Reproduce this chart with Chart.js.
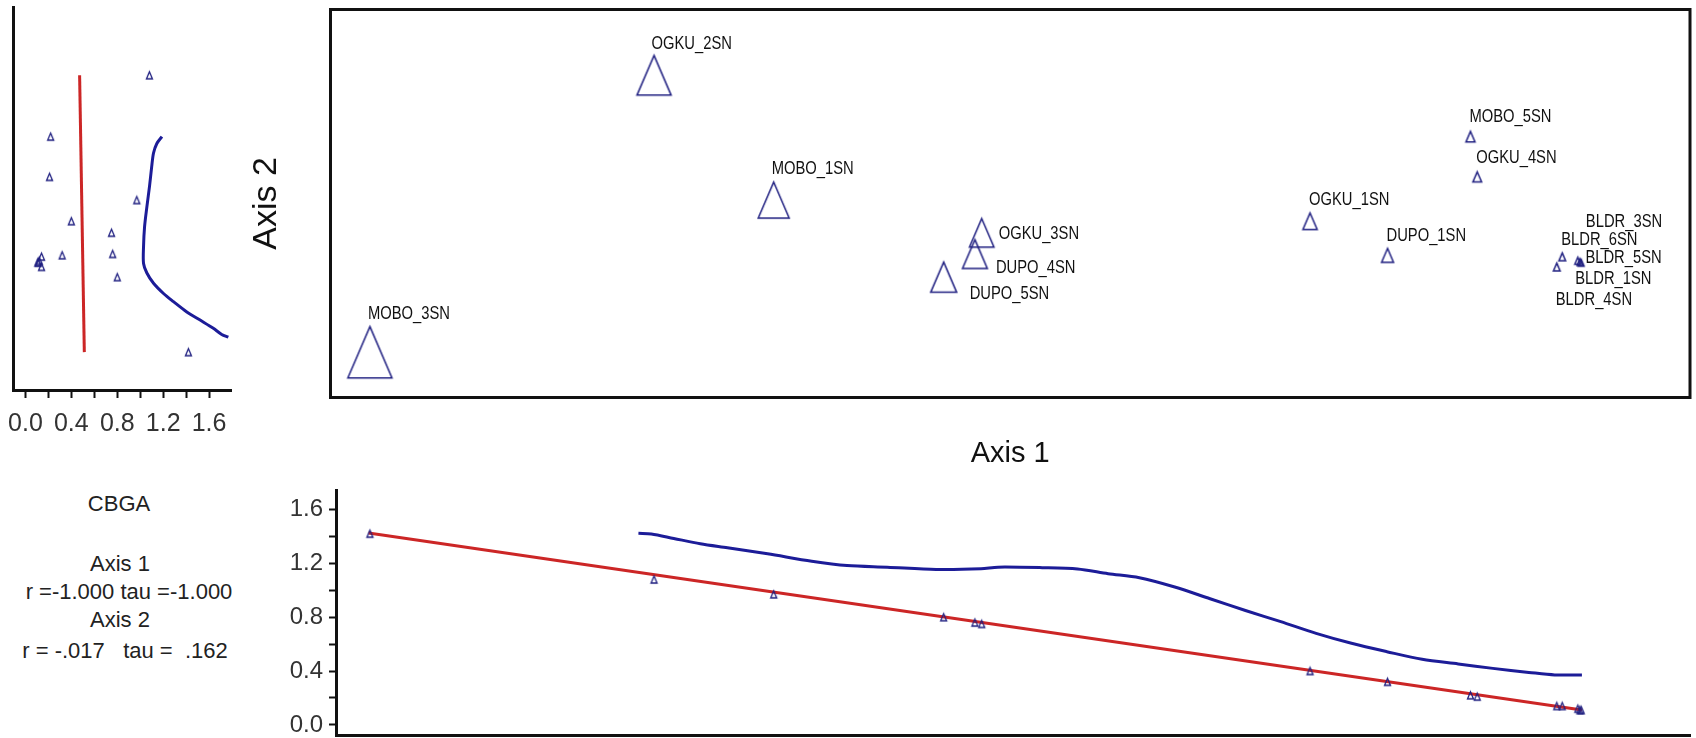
<!DOCTYPE html>
<html>
<head>
<meta charset="utf-8">
<script src="https://cdn.jsdelivr.net/npm/chart.js@4.4.1/dist/chart.umd.min.js"></script>
<style>
  html, body { margin: 0; padding: 0; background: #fff; }
  #page { position: relative; width: 1696px; height: 738px; overflow: hidden; background: #fff; }
  #page canvas { position: absolute; display: block; }
  .stat {
    position: absolute; transform: translate(-50%, -50%);
    font-family: "Liberation Sans", Arial, sans-serif; font-size: 22px; line-height: 1;
    color: #222; white-space: pre;
  }
</style>
</head>
<body>
<div id="page">
  <canvas id="cbgaAxis2" width="270" height="450" style="left:-30px;top:0"></canvas>
  <canvas id="ordination" width="1456" height="480" style="left:240px;top:0"></canvas>
  <canvas id="cbgaAxis1" width="1456" height="320" style="left:240px;top:450px"></canvas>

  <div class="stat" style="left:119px;top:504px">CBGA</div>
  <div class="stat" style="left:120px;top:564px">Axis 1</div>
  <div class="stat" style="left:129px;top:592px">r =-1.000 tau =-1.000</div>
  <div class="stat" style="left:120px;top:620px">Axis 2</div>
  <div class="stat" style="left:125px;top:651px">r = -.017   tau =  .162</div>
</div>

<script>
// ---- Sample units: NMS scores and the CBGA overlay variable ----
const sites = ['MOBO_3SN', 'OGKU_2SN', 'MOBO_1SN', 'OGKU_3SN', 'DUPO_4SN', 'DUPO_5SN', 'OGKU_1SN',
               'DUPO_1SN', 'MOBO_5SN', 'OGKU_4SN', 'BLDR_3SN', 'BLDR_6SN', 'BLDR_5SN', 'BLDR_1SN', 'BLDR_4SN'];
const axis1Scores = [-0.942, -0.524, -0.348, -0.042, -0.052, -0.098, 0.441,
                     0.555, 0.677, 0.687, 0.835, 0.812, 0.838, 0.840, 0.804];
const axis2Scores = [-0.218, 0.188, 0.005, -0.043, -0.074, -0.108, -0.026,
                     -0.076, 0.098, 0.039, -0.084, -0.078, -0.086, -0.087, -0.093];
const cbga = [1.42, 1.08, 0.97, 0.75, 0.76, 0.80, 0.40,
              0.32, 0.22, 0.21, 0.12, 0.14, 0.11, 0.11, 0.14];

// Tick values for the CBGA axes
const cbgaTicks = [0, 0.2, 0.4, 0.6, 0.8, 1.0, 1.2, 1.4, 1.6];

// Linear fits of CBGA on each axis
const fitAxis1X = [-0.944, 0.841];
const fitAxis1Cbga = [1.425, 0.11];
const fitAxis2Cbga = [0.472, 0.513];
const fitAxis2Y = [0.188, -0.218];

// Smoothed CBGA response along Axis 1
const smoothAxis1X = [-0.547, -0.528, -0.495, -0.456, -0.416, -0.357, -0.292, -0.240, -0.181, -0.109,
                      -0.043, -0.018, 0.047, 0.099, 0.144, 0.190, 0.242, 0.294, 0.346, 0.398,
                      0.450, 0.502, 0.554, 0.606, 0.659, 0.710, 0.763, 0.801, 0.841];
const smoothAxis1Cbga = [1.423, 1.418, 1.385, 1.346, 1.316, 1.271, 1.216, 1.184, 1.172, 1.155,
                         1.160, 1.172, 1.168, 1.158, 1.123, 1.093, 1.024, 0.937, 0.850, 0.767,
                         0.680, 0.606, 0.544, 0.487, 0.453, 0.420, 0.390, 0.371, 0.371];

// Smoothed CBGA response along Axis 2
const smoothAxis2Cbga = [1.189, 1.145, 1.116, 1.100, 1.081, 1.058, 1.038, 1.029, 1.029,
                         1.058, 1.116, 1.203, 1.290, 1.406, 1.522, 1.637, 1.710, 1.768];
const smoothAxis2Y = [0.098, 0.088, 0.074, 0.054, 0.025, -0.005, -0.034, -0.063, -0.088,
                      -0.102, -0.117, -0.132, -0.144, -0.159, -0.171, -0.183, -0.192, -0.196];

// Where each site name sits relative to its marker (px)
const labelOffsets = [[-2, -38.5], [-2.5, -31.7], [-2, -31], [17, 1], [21, 14], [26, 17], [-1, -21],
                      [-1, -19.5], [-1, -19.5], [-1, -19], [8, -39], [-1, -17], [5.5, -4], [-6, 16], [-1, 33]];

// ---- Styling ----
const NAVY = '#1f1f80';
const RED = '#cc2626';
const BLUE = '#1c1c98';
const INK = '#111';
const SANS = '"Liberation Sans", Arial, sans-serif';

Chart.defaults.font.family = SANS;
Chart.defaults.color = INK;

// Open triangle markers, drawn once per size
const triCache = {};
function triangle(h, lw) {
  const key = h.toFixed(2) + '_' + lw;
  if (triCache[key]) return triCache[key];
  const w = h * 0.86;
  const pad = Math.ceil(lw) + 1;
  const c = document.createElement('canvas');
  c.width = Math.ceil(w + 2 * pad);
  c.height = Math.ceil(h + 2 * pad);
  const g = c.getContext('2d');
  const cx = c.width / 2;
  const top = (c.height - h) / 2;
  g.strokeStyle = NAVY;
  g.lineWidth = lw;
  g.beginPath();
  g.moveTo(cx, top);
  g.lineTo(cx + w / 2, top + h);
  g.lineTo(cx - w / 2, top + h);
  g.closePath();
  g.stroke();
  triCache[key] = c;
  return c;
}
const markerHeight = v => 3 + 34 * v;
const smallMarker = triangle(7, 1.3);

const pairs = (xs, ys) => xs.map((x, i) => ({ x, y: ys[i] }));

const baseOptions = {
  responsive: false,
  devicePixelRatio: 1,
  animation: false,
  events: [],
  plugins: { legend: { display: false }, tooltip: { enabled: false } }
};

const cbgaTickOptions = (size, padding) => ({
  autoSkip: false, maxRotation: 0, padding, color: '#333',
  font: { family: SANS, size },
  callback: (v, i) => (i % 2 === 0 ? Number(v).toFixed(1) : '')
});

// ---- CBGA against Axis 2 (left panel) ----
new Chart(document.getElementById('cbgaAxis2'), {
  type: 'scatter',
  data: {
    datasets: [
      { data: pairs(cbga, axis2Scores), pointStyle: smallMarker, pointRadius: 5 },
      { data: pairs(fitAxis2Cbga, fitAxis2Y), showLine: true,
        borderColor: RED, borderWidth: 3, pointRadius: 0 },
      { data: pairs(smoothAxis2Cbga, smoothAxis2Y), showLine: true,
        borderColor: BLUE, borderWidth: 3, pointRadius: 0, tension: 0.3 }
    ]
  },
  options: {
    ...baseOptions,
    layout: { padding: { top: 7, right: 9, left: 0, bottom: 0 } },
    scales: {
      x: {
        type: 'linear', min: -0.104, max: 1.791,
        afterBuildTicks: s => { s.ticks = cbgaTicks.map(value => ({ value })); },
        afterFit: s => { s.height = 60; },
        grid: { display: true, drawOnChartArea: false, drawTicks: true, tickLength: 8, tickWidth: 2, tickColor: INK },
        border: { display: true, width: 3, color: INK },
        ticks: cbgaTickOptions(25, 11)
      },
      y: {
        type: 'linear', min: -0.2735, max: 0.2881,
        afterFit: s => { s.width = 43.5; },
        grid: { display: false },
        ticks: { display: false },
        border: { display: true, width: 3, color: INK }
      }
    }
  }
});

// ---- Ordination of sample units (main panel) ----
const siteLabels = {
  id: 'siteLabels',
  afterDatasetsDraw(chart) {
    const meta = chart.getDatasetMeta(0);
    const g = chart.ctx;
    meta.data.forEach((pt, i) => {
      const [dx, dy] = labelOffsets[i];
      g.save();
      g.translate(pt.x + dx, pt.y + dy);
      g.scale(0.82, 1);
      g.font = '18px ' + SANS;
      g.fillStyle = INK;
      g.textAlign = 'left';
      g.textBaseline = 'middle';
      g.fillText(sites[i], 0, 0);
      g.restore();
    });
  }
};
const frame = {
  id: 'frame',
  afterDraw(chart) {
    const { left, top, right, bottom } = chart.chartArea;
    const g = chart.ctx;
    g.save();
    g.strokeStyle = INK;
    g.lineWidth = 3;
    g.strokeRect(left, top, right - left, bottom - top);
    g.restore();
  }
};

new Chart(document.getElementById('ordination'), {
  type: 'scatter',
  data: {
    datasets: [{
      data: pairs(axis1Scores, axis2Scores),
      pointRadius: 5,
      pointStyle: ctx => triangle(markerHeight(cbga[ctx.dataIndex] ?? 0.5), 1.5)
    }]
  },
  options: {
    ...baseOptions,
    clip: false,
    layout: { padding: { top: 9.5, right: 1.5, left: 0, bottom: 0 } },
    scales: {
      x: {
        type: 'linear', min: -1, max: 1,
        afterFit: s => { s.height = 82.5; },
        grid: { display: false }, ticks: { display: false }, border: { display: false },
        title: { display: true, text: 'Axis 1', color: INK, font: { family: SANS, size: 29 }, padding: { top: 0, bottom: 9 } }
      },
      y: {
        type: 'linear', min: -0.2845, max: 0.2845,
        afterFit: s => { s.width = 90.5; },
        grid: { display: false }, ticks: { display: false }, border: { display: false },
        title: { display: true, text: 'Axis 2', color: INK, font: { family: SANS, size: 34 }, padding: { top: 6, bottom: 0 } }
      }
    }
  },
  plugins: [siteLabels, frame]
});

// ---- CBGA against Axis 1 (bottom panel) ----
new Chart(document.getElementById('cbgaAxis1'), {
  type: 'scatter',
  data: {
    datasets: [
      { data: pairs(axis1Scores, cbga), pointStyle: smallMarker, pointRadius: 5 },
      { data: pairs(fitAxis1X, fitAxis1Cbga), showLine: true, borderColor: RED, borderWidth: 3, pointRadius: 0 },
      { data: pairs(smoothAxis1X, smoothAxis1Cbga), showLine: true, borderColor: BLUE, borderWidth: 3,
        pointRadius: 0, tension: 0.3 }
    ]
  },
  options: {
    ...baseOptions,
    layout: { padding: { top: 40, right: 1.5, left: 0, bottom: 0 } },
    scales: {
      x: {
        type: 'linear', min: -0.9919, max: 1,
        afterFit: s => { s.height = 35; },
        grid: { display: false }, ticks: { display: false },
        border: { display: true, width: 3, color: INK }
      },
      y: {
        type: 'linear', min: -0.075, max: 1.745,
        afterBuildTicks: s => { s.ticks = cbgaTicks.map(value => ({ value })); },
        afterFit: s => { s.width = 96; },
        grid: { display: true, drawOnChartArea: false, drawTicks: true, tickLength: 7, tickWidth: 2, tickColor: INK },
        border: { display: true, width: 3, color: INK },
        ticks: cbgaTickOptions(24, 6)
      }
    }
  }
});
</script>
</body>
</html>
